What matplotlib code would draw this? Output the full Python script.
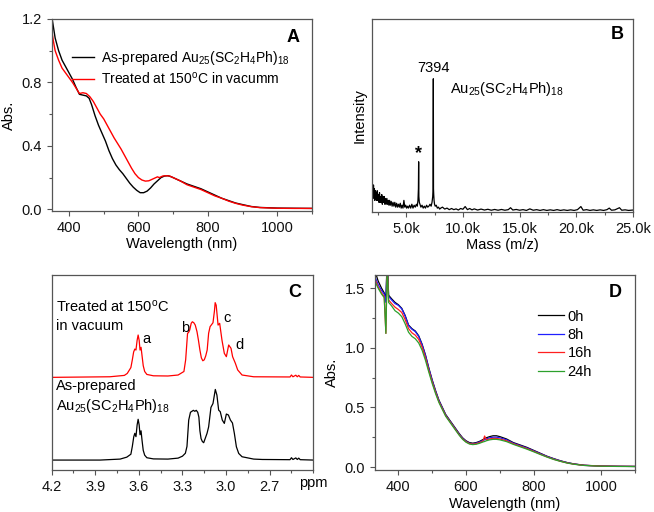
import matplotlib
matplotlib.use('Agg')
import matplotlib.pyplot as plt
from matplotlib.ticker import MultipleLocator, NullLocator

plt.rcParams['font.family'] = ['Liberation Sans', 'DejaVu Sans']
plt.rcParams['mathtext.fontset'] = 'custom'
plt.rcParams['mathtext.rm'] = 'Liberation Sans'
plt.rcParams['mathtext.it'] = 'Liberation Sans:italic'
plt.rcParams['mathtext.bf'] = 'Liberation Sans:bold'
plt.rcParams['font.size'] = 10.5

AU25 = r'Au$_{25}$(SC$_2$H$_4$Ph)$_{18}$'

# ---- A: UV-vis, as-prepared vs treated ----
wl_black = [350, 355, 360, 370, 380, 390, 400, 410, 420, 430, 440, 450, 458, 465, 475, 485,
            495, 505, 515, 525, 535, 545, 555, 565, 575, 585, 595, 605, 615, 625, 635, 645,
            655, 665, 675, 685, 695, 710, 725, 740, 760, 780, 800, 820, 840, 860, 880, 900,
            925, 950, 1000, 1050, 1100]
abs_black = [1.22, 1.15, 1.08, 1.00, 0.94, 0.90, 0.86, 0.82, 0.77, 0.725, 0.72, 0.715, 0.70,
             0.66, 0.59, 0.53, 0.48, 0.43, 0.37, 0.32, 0.28, 0.25, 0.225, 0.195, 0.165, 0.14,
             0.12, 0.105, 0.105, 0.115, 0.135, 0.16, 0.18, 0.20, 0.21, 0.212, 0.205, 0.19,
             0.175, 0.16, 0.145, 0.13, 0.11, 0.09, 0.07, 0.055, 0.04, 0.03, 0.018, 0.012,
             0.008, 0.007, 0.006]
wl_red = [350, 355, 360, 370, 380, 390, 400, 410, 420, 430, 440, 450, 460, 470, 480, 490, 500,
          510, 520, 530, 540, 550, 560, 570, 580, 590, 600, 610, 620, 630, 640, 650, 655, 660,
          670, 680, 690, 700, 720, 740, 760, 780, 800, 820, 840, 860, 880, 900, 925, 950, 1000,
          1050, 1100]
abs_red = [1.13, 1.06, 1.00, 0.94, 0.89, 0.86, 0.83, 0.80, 0.765, 0.73, 0.735, 0.73, 0.71,
           0.68, 0.64, 0.60, 0.57, 0.53, 0.49, 0.45, 0.415, 0.38, 0.34, 0.30, 0.26, 0.225, 0.20,
           0.185, 0.178, 0.18, 0.19, 0.20, 0.205, 0.20, 0.21, 0.212, 0.21, 0.20, 0.18, 0.155,
           0.14, 0.125, 0.105, 0.085, 0.07, 0.052, 0.038, 0.027, 0.017, 0.011, 0.007, 0.006,
           0.006]

# ---- B: MALDI mass spectrum ----
mass = [2000, 2040, 2080, 2120, 2160, 2200, 2240, 2280, 2320, 2360, 2400, 2450, 2500, 2550,
        2600, 2650, 2700, 2750, 2800, 2850, 2900, 2950, 3000, 3060, 3120, 3180, 3240, 3300,
        3360, 3420, 3480, 3540, 3600, 3680, 3760, 3840, 3920, 4000, 4080, 4160, 4240, 4320,
        4400, 4480, 4560, 4640, 4720, 4800, 4880, 4960, 5040, 5120, 5200, 5300, 5400, 5500,
        5600, 5700, 5800, 5900, 5980, 6040, 6080, 6100, 6120, 6160, 6220, 6300, 6400, 6500,
        6600, 6700, 6800, 6900, 7000, 7100, 7200, 7280, 7340, 7370, 7394, 7410, 7430, 7460,
        7500, 7560, 7650, 7750, 7850, 7950, 8050, 8200, 8400, 8600, 8800, 9000, 9200, 9400,
        9600, 9800, 10000, 10200, 10400, 10600, 10800, 11000, 11300, 11600, 11900, 12200,
        12500, 12800, 13100, 13400, 13700, 14000, 14200, 14400, 14700, 15000, 15300, 15600,
        15900, 16200, 16500, 16800, 17100, 17400, 17700, 18000, 18300, 18600, 18900, 19200,
        19500, 19800, 20100, 20400, 20600, 20900, 21200, 21500, 21800, 22100, 22400, 22700,
        22900, 23100, 23400, 23800, 24000, 24300, 24600, 25000]
intensity = [0.05, 0.12, 0.07, 0.14, 0.08, 0.12, 0.06, 0.11, 0.07, 0.10, 0.06, 0.11, 0.06,
             0.09, 0.05, 0.10, 0.05, 0.08, 0.05, 0.09, 0.04, 0.08, 0.05, 0.08, 0.04, 0.07, 0.04,
             0.07, 0.04, 0.06, 0.035, 0.06, 0.035, 0.055, 0.03, 0.05, 0.03, 0.05, 0.025, 0.045,
             0.025, 0.04, 0.025, 0.045, 0.02, 0.035, 0.02, 0.06, 0.025, 0.035, 0.02, 0.03, 0.02,
             0.035, 0.02, 0.04, 0.02, 0.035, 0.025, 0.04, 0.03, 0.06, 0.12, 0.26, 0.08, 0.05,
             0.04, 0.025, 0.035, 0.02, 0.03, 0.02, 0.035, 0.025, 0.03, 0.04, 0.03, 0.05, 0.08,
             0.12, 0.69, 0.12, 0.09, 0.06, 0.04, 0.03, 0.035, 0.02, 0.025, 0.015, 0.02, 0.025,
             0.015, 0.02, 0.012, 0.018, 0.012, 0.016, 0.01, 0.018, 0.014, 0.028, 0.012, 0.018,
             0.011, 0.016, 0.01, 0.015, 0.01, 0.014, 0.009, 0.013, 0.009, 0.013, 0.009, 0.012,
             0.022, 0.01, 0.013, 0.009, 0.012, 0.008, 0.016, 0.009, 0.012, 0.008, 0.012, 0.008,
             0.011, 0.008, 0.012, 0.008, 0.011, 0.008, 0.011, 0.008, 0.012, 0.028, 0.009, 0.012,
             0.008, 0.011, 0.008, 0.011, 0.008, 0.012, 0.02, 0.009, 0.011, 0.022, 0.009, 0.011,
             0.008, 0.01]
mass_ticks = [5000, 10000, 15000, 20000, 25000]
mass_labels = ['5.0k', '10.0k', '15.0k', '20.0k', '25.0k']

# ---- C: 1H NMR ----
ppm_black = [4.2, 3.867, 3.729, 3.683, 3.655, 3.645, 3.635, 3.628, 3.620, 3.612, 3.605, 3.598,
             3.592, 3.585, 3.578, 3.570, 3.560, 3.545, 3.50, 3.40, 3.33, 3.30, 3.28, 3.269,
             3.257, 3.245, 3.235, 3.225, 3.215, 3.205, 3.195, 3.187, 3.18, 3.172, 3.163, 3.154,
             3.131, 3.12, 3.104, 3.09, 3.074, 3.063, 3.051, 3.04, 3.026, 3.012, 2.998, 2.984,
             2.97, 2.956, 2.943, 2.929, 2.913, 2.89, 2.81, 2.75, 2.56, 2.55, 2.54, 2.52, 2.51,
             2.50, 2.49, 2.4]
nmr_black = [0.0, 0.0, 0.005, 0.015, 0.03, 0.07, 0.12, 0.137, 0.12, 0.18, 0.209, 0.18, 0.13,
             0.15, 0.10, 0.05, 0.025, 0.012, 0.006, 0.005, 0.01, 0.02, 0.035, 0.07, 0.205, 0.245,
             0.25, 0.255, 0.25, 0.255, 0.245, 0.22, 0.15, 0.11, 0.095, 0.089, 0.137, 0.17, 0.27,
             0.29, 0.362, 0.333, 0.256, 0.248, 0.205, 0.188, 0.236, 0.231, 0.205, 0.19, 0.137,
             0.068, 0.034, 0.017, 0.005, 0.003, 0.002, 0.012, 0.003, 0.011, 0.003, 0.01, 0.002,
             0.0]
ppm_red = [4.2, 3.80, 3.70, 3.68, 3.655, 3.645, 3.636, 3.628, 3.620, 3.612, 3.605, 3.598, 3.592,
           3.585, 3.578, 3.57, 3.56, 3.545, 3.50, 3.40, 3.33, 3.29, 3.278, 3.265, 3.258, 3.25,
           3.24, 3.232, 3.222, 3.212, 3.20, 3.19, 3.18, 3.17, 3.16, 3.15, 3.14, 3.13, 3.12,
           3.11, 3.10, 3.09, 3.08, 3.075, 3.068, 3.055, 3.044, 3.028, 3.012, 2.998, 2.982,
           2.966, 2.955, 2.936, 2.92, 2.89, 2.81, 2.56, 2.55, 2.54, 2.52, 2.51, 2.50, 2.49, 2.4]
nmr_red = [0.0, 0.003, 0.01, 0.02, 0.05, 0.09, 0.13, 0.145, 0.14, 0.19, 0.217, 0.19, 0.14,
           0.154, 0.11, 0.06, 0.03, 0.015, 0.008, 0.007, 0.012, 0.03, 0.09, 0.226, 0.23, 0.243,
           0.277, 0.285, 0.28, 0.268, 0.234, 0.19, 0.14, 0.10, 0.085, 0.09, 0.11, 0.14, 0.226,
           0.26, 0.27, 0.28, 0.34, 0.383, 0.37, 0.268, 0.277, 0.19, 0.123, 0.106, 0.166, 0.149,
           0.106, 0.072, 0.038, 0.012, 0.003, 0.002, 0.012, 0.003, 0.011, 0.003, 0.01, 0.002,
           0.0]
offset_black = 0.051
offset_red = 0.475

# ---- D: stability, UV-vis over time ----
wl_d = [330, 340, 350, 358, 363, 367, 371, 380, 390, 400, 410, 420, 430, 440, 450, 460, 470,
        480, 490, 500, 510, 520, 530, 540, 550, 560, 570, 580, 590, 600, 610, 620, 630, 640,
        650, 655, 660, 670, 680, 690, 700, 720, 740, 760, 780, 800, 820, 840, 860, 880, 900,
        920, 950, 1000, 1050, 1100]
abs_0h = [1.65, 1.56, 1.50, 1.46, 1.42, 1.75, 1.44, 1.41, 1.38, 1.36, 1.33, 1.27, 1.19, 1.16,
          1.14, 1.10, 1.03, 0.94, 0.83, 0.73, 0.64, 0.56, 0.50, 0.44, 0.40, 0.36, 0.32, 0.28,
          0.245, 0.22, 0.205, 0.20, 0.205, 0.215, 0.23, 0.237, 0.245, 0.255, 0.262, 0.262,
          0.255, 0.235, 0.205, 0.185, 0.165, 0.14, 0.115, 0.09, 0.07, 0.052, 0.037, 0.026,
          0.015, 0.008, 0.006, 0.005]
abs_8h = [1.60, 1.53, 1.48, 1.45, 1.38, 1.75, 1.43, 1.40, 1.37, 1.355, 1.325, 1.265, 1.185,
          1.155, 1.135, 1.095, 1.025, 0.935, 0.825, 0.725, 0.635, 0.555, 0.495, 0.435, 0.395,
          0.355, 0.315, 0.275, 0.24, 0.215, 0.20, 0.195, 0.20, 0.21, 0.222, 0.228, 0.236, 0.245,
          0.25, 0.25, 0.245, 0.228, 0.20, 0.18, 0.16, 0.136, 0.112, 0.088, 0.068, 0.05, 0.036,
          0.025, 0.014, 0.008, 0.006, 0.005]
abs_16h = [1.58, 1.51, 1.46, 1.43, 1.12, 1.75, 1.40, 1.37, 1.34, 1.32, 1.295, 1.235, 1.16,
           1.125, 1.105, 1.07, 1.005, 0.915, 0.81, 0.712, 0.625, 0.547, 0.488, 0.43, 0.39,
           0.35, 0.31, 0.27, 0.236, 0.212, 0.197, 0.192, 0.196, 0.205, 0.216, 0.26, 0.228,
           0.236, 0.24, 0.24, 0.235, 0.22, 0.195, 0.175, 0.155, 0.132, 0.108, 0.085, 0.065,
           0.048, 0.034, 0.024, 0.014, 0.008, 0.006, 0.005]
abs_24h = [1.56, 1.50, 1.45, 1.42, 1.12, 1.72, 1.38, 1.35, 1.31, 1.29, 1.26, 1.20, 1.13, 1.095,
           1.075, 1.04, 0.98, 0.895, 0.795, 0.70, 0.615, 0.54, 0.482, 0.425, 0.385, 0.345,
           0.305, 0.266, 0.232, 0.208, 0.193, 0.188, 0.191, 0.199, 0.21, 0.214, 0.22, 0.228,
           0.232, 0.232, 0.228, 0.213, 0.19, 0.17, 0.15, 0.128, 0.105, 0.083, 0.063, 0.047,
           0.033, 0.023, 0.013, 0.007, 0.005, 0.004]
times = ['0h', '8h', '16h', '24h']
time_colors = ['black', '#1f1fff', '#ff1f1f', '#2ca02c']

spine_col = '#555555'


def style(ax):
    for s in ax.spines.values():
        s.set_color(spine_col)
        s.set_linewidth(0.9)
    ax.tick_params(which='both', direction='out', colors=spine_col, labelcolor='#111111',
                   top=False, right=False)
    ax.tick_params(which='major', length=3.5, width=0.8, labelsize=10.5)
    ax.tick_params(which='minor', length=2, width=0.8)


fig = plt.figure(figsize=(6.54, 5.12), dpi=100)

# A
axA = fig.add_axes([0.079, 0.588, 0.398, 0.375])
axA.plot(wl_black, abs_black, color='black', lw=1.0, label='As-prepared ' + AU25)
axA.plot(wl_red, abs_red, color='red', lw=1.0, label=r'Treated at 150$^{\mathrm{o}}$C in vacumm')
axA.set_xlim(350, 1100)
axA.set_ylim(-0.01, 1.2)
axA.xaxis.set_major_locator(MultipleLocator(200))
axA.xaxis.set_minor_locator(MultipleLocator(100))
axA.yaxis.set_major_locator(MultipleLocator(0.4))
axA.yaxis.set_minor_locator(MultipleLocator(0.2))
axA.set_xlabel('Wavelength (nm)', labelpad=2)
axA.set_ylabel('Abs.')
axA.legend(loc='upper left', bbox_to_anchor=(0.05, 0.88), frameon=False, fontsize=10,
           handlelength=1.6, handletextpad=0.5, labelspacing=0.3, borderpad=0)
axA.text(0.927, 0.905, 'A', transform=axA.transAxes, fontsize=13, fontweight='bold',
         ha='center', va='center')
style(axA)

# B
axB = fig.add_axes([0.569, 0.586, 0.399, 0.377])
axB.plot(mass, intensity, color='black', lw=0.9)
axB.set_xlim(2000, 25000)
axB.set_ylim(0, 1)
axB.set_xticks(mass_ticks)
axB.set_xticklabels(mass_labels)
axB.xaxis.set_minor_locator(MultipleLocator(2500))
axB.yaxis.set_major_locator(NullLocator())
axB.set_xlabel('Mass (m/z)', labelpad=2)
axB.set_ylabel('Intensity')
axB.text(7394, 0.745, '7394', ha='center', va='center', fontsize=10.5)
axB.text(8900, 0.637, AU25, ha='left', va='center', fontsize=10.5)
axB.text(6100, 0.30, '*', ha='center', va='center', fontsize=13, fontweight='bold')
axB.text(0.939, 0.917, 'B', transform=axB.transAxes, fontsize=13, fontweight='bold',
         ha='center', va='center')
style(axB)

# C
axC = fig.add_axes([0.079, 0.082, 0.400, 0.381])
axC.plot(ppm_red, [v + offset_red for v in nmr_red], color='red', lw=0.9)
axC.plot(ppm_black, [v + offset_black for v in nmr_black], color='black', lw=0.9)
axC.set_xlim(4.2, 2.4)
axC.set_ylim(0, 1)
axC.xaxis.set_major_locator(MultipleLocator(0.3))
axC.xaxis.set_minor_locator(MultipleLocator(0.15))
axC.yaxis.set_major_locator(NullLocator())
axC.set_xticks([4.2, 3.9, 3.6, 3.3, 3.0, 2.7])
axC.set_xticklabels(['4.2', '3.9', '3.6', '3.3', '3.0', '2.7'])
axC.text(1.0, -0.065, 'ppm', transform=axC.transAxes, ha='center', va='center', fontsize=10.5)
axC.text(0.015, 0.84, r'Treated at 150$^{\mathrm{o}}$C', transform=axC.transAxes,
         ha='left', va='center', fontsize=10.5)
axC.text(0.015, 0.74, 'in vacuum', transform=axC.transAxes, ha='left', va='center',
         fontsize=10.5)
axC.text(0.015, 0.43, 'As-prepared', transform=axC.transAxes, ha='left', va='center',
         fontsize=10.5)
axC.text(0.015, 0.33, AU25, transform=axC.transAxes, ha='left', va='center', fontsize=10.5)
for lab, px, py in [('a', 3.55, 0.67), ('b', 3.28, 0.73), ('c', 2.99, 0.78), ('d', 2.91, 0.64)]:
    axC.text(px, py, lab, ha='center', va='center', fontsize=10.5)
axC.text(0.931, 0.908, 'C', transform=axC.transAxes, fontsize=13, fontweight='bold',
         ha='center', va='center')
style(axC)

# D
axD = fig.add_axes([0.573, 0.082, 0.398, 0.381])
for series, lab, col in zip([abs_0h, abs_8h, abs_16h, abs_24h], times, time_colors):
    axD.plot(wl_d, series, color=col, lw=0.9, label=lab)
axD.set_xlim(330, 1100)
axD.set_ylim(-0.025, 1.61)
axD.xaxis.set_major_locator(MultipleLocator(200))
axD.xaxis.set_minor_locator(MultipleLocator(100))
axD.yaxis.set_major_locator(MultipleLocator(0.5))
axD.yaxis.set_minor_locator(MultipleLocator(0.25))
axD.set_xlabel('Wavelength (nm)', labelpad=2)
axD.set_ylabel('Abs.')
axD.legend(loc='upper left', bbox_to_anchor=(0.6, 0.86), frameon=False, fontsize=10.5,
           handlelength=1.8, handletextpad=0.2, labelspacing=0.3, borderpad=0)
axD.text(0.923, 0.908, 'D', transform=axD.transAxes, fontsize=13, fontweight='bold',
         ha='center', va='center')
style(axD)

fig.savefig('out.png', dpi=100)
